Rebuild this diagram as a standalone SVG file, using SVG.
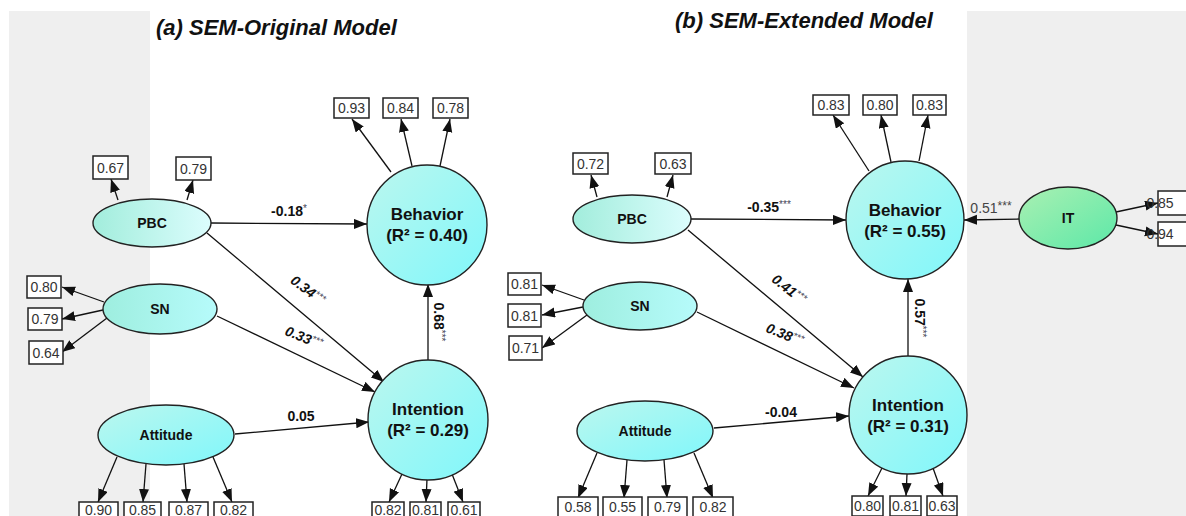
<svg xmlns="http://www.w3.org/2000/svg" width="1186" height="516" viewBox="0 0 1186 516">
  <defs>
    <style>
      .title { font-family: "Liberation Sans", Arial, sans-serif; font-size: 22px; font-weight: bold; font-style: italic; fill: #111; }
      .lat { stroke: #222; stroke-width: 1.4; }
      .nl { font-family: "Liberation Sans", Arial, sans-serif; font-size: 14px; font-weight: bold; fill: #111; text-anchor: middle; }
      .cl { font-family: "Liberation Sans", Arial, sans-serif; font-size: 17px; font-weight: bold; fill: #111; text-anchor: middle; }
      .box { fill: #fff; stroke: #222; stroke-width: 1.5; }
      .bt { font-family: "Liberation Sans", Arial, sans-serif; font-size: 14px; fill: #333; text-anchor: middle; }
      .edge { stroke: #111; stroke-width: 1.3; fill: none; marker-end: url(#arr); }
      .pl { font-family: "Liberation Sans", Arial, sans-serif; font-size: 14px; font-weight: bold; fill: #111; text-anchor: middle; }
      .pli { font-style: italic; }
      .sig { font-size: 10px; font-weight: normal; fill: #445; }
      .plr { font-family: "Liberation Sans", Arial, sans-serif; font-size: 14px; fill: #444; text-anchor: middle; }
    </style>
    <marker id="arr" markerUnits="userSpaceOnUse" markerWidth="14" markerHeight="11" refX="13" refY="5" orient="auto">
      <path d="M0,0 L13,5 L0,10 z" fill="#111"/>
    </marker>
    <linearGradient id="gPBC" x1="0" y1="0" x2="1" y2="0">
      <stop offset="0" stop-color="#a2eddc"/>
      <stop offset="1" stop-color="#dcfdfd"/>
    </linearGradient>
    <linearGradient id="gSN" x1="0" y1="0" x2="1" y2="0">
      <stop offset="0" stop-color="#9eeedf"/>
      <stop offset="1" stop-color="#b6fbfb"/>
    </linearGradient>
    <linearGradient id="gLat" x1="0" y1="0" x2="1" y2="1">
      <stop offset="0" stop-color="#bcf7ee"/>
      <stop offset="1" stop-color="#80f7fb"/>
    </linearGradient>
    <linearGradient id="gIT" x1="0" y1="0" x2="1" y2="1">
      <stop offset="0" stop-color="#aaf0b2"/>
      <stop offset="1" stop-color="#5ce8a8"/>
    </linearGradient>
  </defs>

  <!-- page background with side panels -->
  <rect x="0" y="0" width="1186" height="516" fill="#fff"/>
  <rect x="9" y="11" width="141" height="505" fill="#efefef"/>
  <rect x="967" y="11" width="219" height="505" fill="#efefef"/>

  <text class="title" x="156" y="35">(a) SEM-Original Model</text>
  <text class="title" x="675" y="28">(b) SEM-Extended Model</text>

  <!-- connectors -->
  <g id="connectors">
    <!-- (a) indicator loadings -->
    <line class="edge" x1="118" y1="200" x2="111" y2="179"/>
    <line class="edge" x1="187" y1="200" x2="193" y2="180"/>
    <line class="edge" x1="104" y1="302" x2="62" y2="287"/>
    <line class="edge" x1="103" y1="310" x2="62" y2="319"/>
    <line class="edge" x1="107" y1="318" x2="62" y2="352"/>
    <line class="edge" x1="117" y1="457" x2="98" y2="502"/>
    <line class="edge" x1="146" y1="464" x2="143" y2="502"/>
    <line class="edge" x1="184" y1="464" x2="187" y2="502"/>
    <line class="edge" x1="213" y1="457" x2="232" y2="502"/>
    <line class="edge" x1="391" y1="172" x2="352" y2="119"/>
    <line class="edge" x1="412" y1="166" x2="401" y2="119"/>
    <line class="edge" x1="440" y1="166" x2="450" y2="119"/>
    <line class="edge" x1="402" y1="474" x2="389" y2="502"/>
    <line class="edge" x1="427" y1="479" x2="426" y2="502"/>
    <line class="edge" x1="452" y1="474" x2="463" y2="502"/>
    <!-- (a) structural paths -->
    <line class="edge" x1="211" y1="223" x2="367" y2="224"/>
    <line class="edge" x1="207" y1="233" x2="384" y2="382"/>
    <line class="edge" x1="217" y1="316" x2="375" y2="392"/>
    <line class="edge" x1="235" y1="434" x2="369" y2="422"/>
    <line class="edge" x1="428" y1="361" x2="428" y2="284"/>

    <!-- (b) indicator loadings -->
    <line class="edge" x1="597" y1="197" x2="591" y2="175"/>
    <line class="edge" x1="667" y1="197" x2="673" y2="175"/>
    <line class="edge" x1="584" y1="300" x2="542" y2="285"/>
    <line class="edge" x1="583" y1="307" x2="542" y2="315"/>
    <line class="edge" x1="587" y1="315" x2="542" y2="348"/>
    <line class="edge" x1="597" y1="453" x2="578" y2="498"/>
    <line class="edge" x1="627" y1="460" x2="624" y2="498"/>
    <line class="edge" x1="664" y1="460" x2="667" y2="498"/>
    <line class="edge" x1="694" y1="453" x2="713" y2="498"/>
    <line class="edge" x1="869" y1="171" x2="833" y2="115"/>
    <line class="edge" x1="891" y1="162" x2="881" y2="115"/>
    <line class="edge" x1="919" y1="161" x2="928" y2="115"/>
    <line class="edge" x1="882" y1="468" x2="868" y2="496"/>
    <line class="edge" x1="907" y1="474" x2="906" y2="496"/>
    <line class="edge" x1="933" y1="468" x2="943" y2="496"/>
    <line class="edge" x1="1116" y1="212" x2="1158" y2="203"/>
    <line class="edge" x1="1116" y1="225" x2="1158" y2="234"/>
    <!-- (b) structural paths -->
    <line class="edge" x1="691" y1="219" x2="846" y2="220"/>
    <line class="edge" x1="688" y1="230" x2="863" y2="377"/>
    <line class="edge" x1="697" y1="312" x2="854" y2="388"/>
    <line class="edge" x1="714" y1="428" x2="849" y2="416"/>
    <line class="edge" x1="908" y1="356" x2="908" y2="279"/>
    <line class="edge" x1="1020" y1="219" x2="964" y2="220"/>
  </g>

  <!-- path coefficients -->
  <g id="coefficients">
    <text class="pl" x="289" y="216">-0.18<tspan class="sig" dy="-4">*</tspan></text>
    <text class="pl pli" transform="translate(305,294) rotate(37)">0.34<tspan class="sig" dy="-4">***</tspan></text>
    <text class="pl pli" transform="translate(302,342) rotate(22)">0.33<tspan class="sig" dy="-4">***</tspan></text>
    <text class="pl" x="301" y="421">0.05</text>
    <text class="pl" transform="translate(434,322) rotate(90)">0.68<tspan class="sig" dy="-4">***</tspan></text>

    <text class="pl" x="769" y="212">-0.35<tspan class="sig" dy="-4">***</tspan></text>
    <text class="pl pli" transform="translate(786,293) rotate(38)">0.41<tspan class="sig" dy="-4">***</tspan></text>
    <text class="pl pli" transform="translate(783,339) rotate(22)">0.38<tspan class="sig" dy="-4">***</tspan></text>
    <text class="pl" x="781" y="417">-0.04</text>
    <text class="pl" transform="translate(915,318) rotate(90)">0.57<tspan class="sig" dy="-4">***</tspan></text>
    <text class="plr" x="991" y="213">0.51<tspan font-size="12" dy="-3">***</tspan></text>
  </g>

  <!-- (a) SEM-Original Model nodes -->
  <g id="a-pbc">
    <ellipse class="lat" cx="152" cy="223" rx="59" ry="24" fill="url(#gPBC)"/>
    <text class="nl" x="152" y="228">PBC</text>
    <rect class="box" x="93" y="156" width="35" height="23"/><text class="bt" x="110.5" y="172.5">0.67</text>
    <rect class="box" x="176" y="157" width="35" height="23"/><text class="bt" x="193.5" y="173.5">0.79</text>
  </g>
  <g id="a-sn">
    <ellipse class="lat" cx="160" cy="309" rx="57" ry="25" fill="url(#gSN)"/>
    <text class="nl" x="160" y="314">SN</text>
    <rect class="box" x="27" y="276" width="34" height="22"/><text class="bt" x="44" y="292">0.80</text>
    <rect class="box" x="28" y="308" width="34" height="22"/><text class="bt" x="45" y="324">0.79</text>
    <rect class="box" x="29" y="341" width="34" height="23"/><text class="bt" x="46" y="357.5">0.64</text>
  </g>
  <g id="a-attitude">
    <ellipse class="lat" cx="166" cy="435" rx="68" ry="30" fill="url(#gLat)"/>
    <text class="nl" x="166" y="440">Attitude</text>
    <rect class="box" x="79" y="502" width="39" height="22"/><text class="bt" x="98.5" y="515">0.90</text>
    <rect class="box" x="124" y="502" width="37" height="22"/><text class="bt" x="142.5" y="515">0.85</text>
    <rect class="box" x="169" y="502" width="39" height="22"/><text class="bt" x="188.5" y="515">0.87</text>
    <rect class="box" x="214" y="502" width="39" height="22" fill="#f2f2f2"/><text class="bt" x="233.5" y="515">0.82</text>
  </g>
  <g id="a-behavior">
    <circle class="lat" cx="427" cy="225" r="60" fill="url(#gLat)"/>
    <text class="cl" x="427" y="220">Behavior</text>
    <text class="cl" x="427" y="241">(R² = 0.40)</text>
    <rect class="box" x="334" y="98" width="35" height="20"/><text class="bt" x="351.5" y="113">0.93</text>
    <rect class="box" x="383" y="98" width="35" height="20"/><text class="bt" x="400.5" y="113">0.84</text>
    <rect class="box" x="433" y="98" width="35" height="20"/><text class="bt" x="450.5" y="113">0.78</text>
  </g>
  <g id="a-intention">
    <circle class="lat" cx="428" cy="420" r="60" fill="url(#gLat)"/>
    <text class="cl" x="428" y="415">Intention</text>
    <text class="cl" x="428" y="436">(R² = 0.29)</text>
    <rect class="box" x="372" y="502" width="32" height="22"/><text class="bt" x="388" y="515">0.82</text>
    <rect class="box" x="410" y="502" width="31" height="22"/><text class="bt" x="425.5" y="515">0.81</text>
    <rect class="box" x="448" y="502" width="32" height="22"/><text class="bt" x="464" y="515">0.61</text>
  </g>

  <!-- (b) SEM-Extended Model nodes -->
  <g id="b-pbc">
    <ellipse class="lat" cx="632" cy="219" rx="59" ry="24" fill="url(#gPBC)"/>
    <text class="nl" x="632" y="224">PBC</text>
    <rect class="box" x="573" y="153" width="35" height="21"/><text class="bt" x="590.5" y="168.5">0.72</text>
    <rect class="box" x="655" y="153" width="36" height="21"/><text class="bt" x="673" y="168.5">0.63</text>
  </g>
  <g id="b-sn">
    <ellipse class="lat" cx="640" cy="306" rx="57" ry="24" fill="url(#gSN)"/>
    <text class="nl" x="640" y="311">SN</text>
    <rect class="box" x="508" y="273" width="33" height="22"/><text class="bt" x="524.5" y="289">0.81</text>
    <rect class="box" x="508" y="304" width="33" height="23"/><text class="bt" x="524.5" y="320.5">0.81</text>
    <rect class="box" x="509" y="336" width="33" height="24" fill="#e8dcf2"/><text class="bt" x="525.5" y="353">0.71</text>
  </g>
  <g id="b-attitude">
    <ellipse class="lat" cx="645" cy="431" rx="68" ry="30" fill="url(#gLat)"/>
    <text class="nl" x="645" y="436">Attitude</text>
    <rect class="box" x="558" y="497" width="40" height="20"/><text class="bt" x="578" y="512">0.58</text>
    <rect class="box" x="603" y="497" width="39" height="20"/><text class="bt" x="622.5" y="512">0.55</text>
    <rect class="box" x="648" y="497" width="39" height="20"/><text class="bt" x="667.5" y="512">0.79</text>
    <rect class="box" x="693" y="497" width="40" height="20" fill="#e6e6e6"/><text class="bt" x="713" y="512">0.82</text>
  </g>
  <g id="b-behavior">
    <circle class="lat" cx="905" cy="220" r="59" fill="url(#gLat)"/>
    <text class="cl" x="905" y="216">Behavior</text>
    <text class="cl" x="905" y="237">(R² = 0.55)</text>
    <rect class="box" x="813" y="95" width="36" height="20"/><text class="bt" x="831" y="110">0.83</text>
    <rect class="box" x="863" y="95" width="34" height="20"/><text class="bt" x="880" y="110">0.80</text>
    <rect class="box" x="913" y="95" width="33" height="20"/><text class="bt" x="929.5" y="110">0.83</text>
  </g>
  <g id="b-intention">
    <circle class="lat" cx="908" cy="415" r="59" fill="url(#gLat)"/>
    <text class="cl" x="908" y="411">Intention</text>
    <text class="cl" x="908" y="432">(R² = 0.31)</text>
    <rect class="box" x="852" y="496" width="31" height="20"/><text class="bt" x="867.5" y="511">0.80</text>
    <rect class="box" x="890" y="496" width="31" height="20"/><text class="bt" x="905.5" y="511">0.81</text>
    <rect class="box" x="927" y="496" width="30" height="20"/><text class="bt" x="942" y="511">0.63</text>
  </g>
  <g id="b-it">
    <ellipse class="lat" cx="1068" cy="218" rx="49" ry="31" fill="url(#gIT)"/>
    <text class="nl" x="1068" y="223">IT</text>
    <rect class="box" x="1158" y="191" width="34" height="24"/><text class="bt" x="1160" y="208" text-anchor="start">0.85</text>
    <rect class="box" x="1158" y="222" width="34" height="24"/><text class="bt" x="1160" y="239" text-anchor="start">0.94</text>
  </g>
</svg>
